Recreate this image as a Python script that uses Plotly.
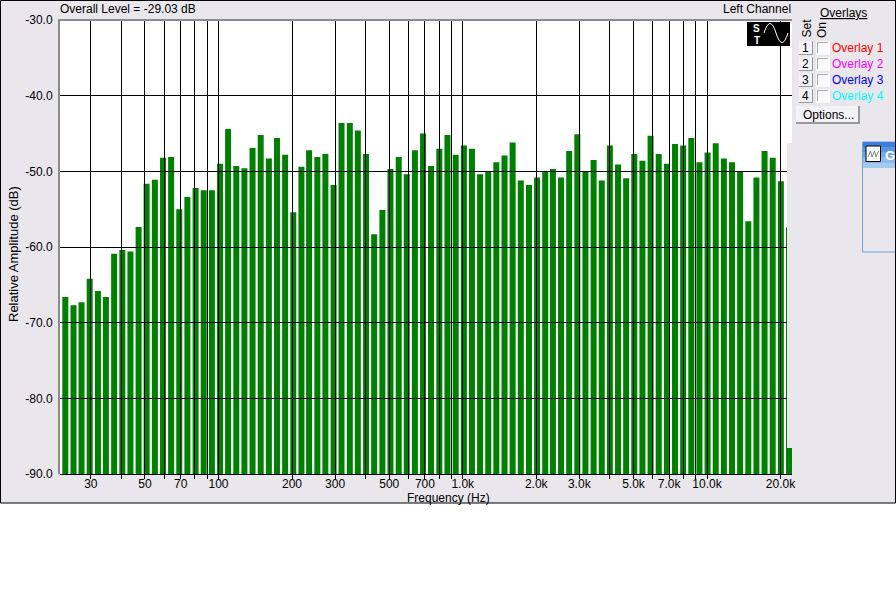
import numpy as np
import plotly.graph_objects as go

# ---- data ----
freqs_hz = [23.6,25.5,27.5,29.7,32.1,34.6,37.4,40.4,43.6,47.1,50.8,54.9,59.3,64.0,69.1,74.6,80.6,87.0,94.0,101.5,
            109.5,118.3,127.7,137.9,148.9,160.8,173.6,187.5,202.4,218.6,
            235,254,274,296,319,345,372,402,434,469,506,547,590,637,688,742,802,866,936,1011,
            1091,1178,1272,1373,1483,1601,1729,1867,2016,2177,
            2340,2527,2728,2946,3180,3435,3709,4004,4324,4668,5040,5443,5878,6346,6854,7400,7991,8628,9316,10059,
            10862,11729,12664,13673,14765,15942,17213,18587,20070,21671]
levels_db = [-66.6,-67.7,-67.3,-64.2,-65.8,-66.6,-60.9,-60.4,-60.6,-57.35,
             -51.65,-51.1,-48.2,-48.1,-55.0,-53.4,-52.2,-52.5,-52.5,-49.0,
             -44.4,-49.3,-49.6,-46.9,-45.2,-48.3,-45.6,-47.8,-55.4,-49.4,
             -47.2,-48.1,-47.7,-51.8,-43.6,-43.6,-44.6,-47.7,-58.3,-55.1,
             -49.7,-48.1,-50.4,-47.2,-45.0,-49.3,-47.0,-45.2,-47.8,-46.6,
             -47.0,-50.4,-50.0,-48.8,-47.9,-46.2,-51.2,-51.8,-50.8,-50.0,
             -49.7,-50.8,-47.3,-45.1,-50.0,-48.5,-51.2,-46.6,-49.1,-50.9,
             -47.7,-48.6,-45.3,-47.7,-49.0,-46.4,-46.6,-45.6,-48.8,-47.5,
             -46.3,-48.3,-48.8,-50.0,-56.6,-50.8,-47.3,-48.2,-51.3,-57.4]
x_tick_vals = [30,40,50,60,70,80,90,100,200,300,400,500,600,700,800,900,1000,
               2000,3000,4000,5000,6000,7000,8000,9000,10000,20000]
x_tick_text = ["30","","50","","70","","","100","200","300","","500","","700","","","1.0k",
               "2.0k","3.0k","","5.0k","","7.0k","","","10.0k","20.0k"]
y_tick_vals = [-30,-40,-50,-60,-70,-80,-90]
y_tick_text = ["-30.0","-40.0","-50.0","-60.0","-70.0","-80.0","-90.0"]
overlay_names = ["Overlay 1","Overlay 2","Overlay 3","Overlay 4"]
overlay_colors = ["#ff0000","#ff00ff","#0000ff","#00ffff"]

# ---- style / layout ----
BG = "#e9e7ec"
FONT = "Liberation Sans, Arial, sans-serif"
L, R, T, B = 60, 104, 20, 126
W, H = 896, 600
PW, PH = W - L - R, H - T - B
XR = [1.351, 4.348]
YR = [-90, -30]

def px(x): return (x - L) / PW
def py(y): return 1 - (y - T) / PH

shapes = []
def rect(x0, y0, x1, y1, fill, line=None, lw=1, layer="above"):
    shapes.append(dict(type="rect", xref="paper", yref="paper", x0=px(x0), x1=px(x1), y0=py(y0), y1=py(y1),
                       fillcolor=fill, line=dict(color=line or fill, width=lw if line else 0), layer=layer))

def path(points, color, lw=1):
    shapes.append(dict(type="path", xref="paper", yref="paper", path=points, line=dict(color=color, width=lw), layer="above"))

anns = []
def text(x, y, s, color="#000000", size=12, anchor="center", angle=0, vanchor="middle"):
    anns.append(dict(xref="paper", yref="paper", x=px(x), y=py(y), text=s, showarrow=False, xanchor=anchor,
                     yanchor=vanchor, textangle=angle, font=dict(color=color, size=size, family=FONT),
                     borderpad=0, borderwidth=0))

# application frame and plot background
rect(0.5, 0.5, 895.5, 503, BG, "#000000", 1, layer="below")
rect(60, 20, 792, 474, "#ffffff", layer="below")
# grey axis edges
rect(58, 19, 60, 474, "#8c8c8c")
rect(58, 19, 792, 21, "#8c8c8c")
# panel hiding the end of the plot
rect(787, 143, 862, 448, BG)

# logo
rect(747, 22, 790, 46, "#000000")
def q(xc, yc): return f"{px(xc)},{py(yc)}"
path(f"M{q(764,33)} Q{q(770,14)} {q(776,33)} Q{q(782,52)} {q(788,33)}", "#ffffff", 1)
text(756.5, 28, "<b>S</b>", "#ffffff", 10)
text(756.5, 40, "<b>T</b>", "#ffffff", 10)

# overlay controls
for i, (name, col) in enumerate(zip(overlay_names, overlay_colors)):
    yc = 48 + 16 * i
    rect(799, yc - 7, 813, yc + 7, "#9a9a9a")
    rect(799, yc - 7, 812, yc + 6, "#f3f2f4")
    rect(816, yc - 7, 830, yc + 7, "#fbfbfb")
    rect(817, yc - 6, 828, yc + 5, "#a8a8a8")
    rect(818, yc - 5, 828, yc + 5, "#fbfbfb")
    text(806, yc, str(i + 1))
    text(832, yc, name, col, anchor="left")
rect(796, 106, 860, 124, "#9a9a9a")
rect(796, 106, 858, 122, "#f3f2f4")
text(828, 114.5, "Options...")
text(843.5, 12.5, "<u>Overlays</u>")
text(806.5, 28, "Set", angle=-90)
text(822, 30, "On", angle=-90)

# neighbouring window
rect(862.5, 142, 897, 252, BG, "#6ca2ea", 1)
for y0, y1, c in [(142, 147, "#3f7fdc"), (147, 152, "#5a94e2"), (152, 157, "#74a8e8"), (157, 163, "#8cbaec"), (163, 168, "#a4caf0")]:
    rect(863, y0, 896, y1, c)
rect(866, 146, 880.5, 161.5, "#ffffff", "#000000", 1)
path(f"M{q(868,157)} L{q(870.5,151)} L{q(872,157)} L{q(874.5,151)} L{q(876,157)} L{q(878.5,151)}", "#808080", 1)
text(885, 155, "<b>G</b>", "#ffffff", 13, anchor="left")
rect(895, 0, 896, 503, "#000000")

# header and axis texts
text(60, 9, "Overall Level = -29.03 dB", anchor="left")
text(791, 9, "Left Channel", anchor="right")
text(448, 498.5, "Frequency (Hz)")
text(13, 254, "Relative Amplitude (dB)", size=13, angle=-90)

fig = go.Figure()
fig.add_trace(go.Bar(
    x=freqs_hz,
    y=np.array(levels_db) + 90,
    base=-90,
    width=[f * 0.0566 for f in freqs_hz],
    marker=dict(color="#008000", line=dict(width=0)),
    customdata=levels_db,
    hovertemplate="%{x} Hz: %{customdata} dB<extra></extra>",
    xaxis="x", yaxis="y",
))
# a markless trace makes the second subplot (grid above the bars) exist
fig.add_trace(go.Scatter(x=freqs_hz, y=levels_db, mode="lines", line=dict(color="rgba(0,0,0,0)", width=0),
                         hoverinfo="skip", xaxis="x2", yaxis="y2"))

fig.update_layout(
    width=W, height=H, autosize=False,
    margin=dict(l=L, r=R, t=T, b=B, pad=0),
    paper_bgcolor="#ffffff", plot_bgcolor="rgba(0,0,0,0)",
    showlegend=False, font=dict(family=FONT, size=12, color="#000000"),
    shapes=shapes, annotations=anns,
    # bars live on the first subplot
    xaxis=dict(type="log", range=XR, visible=False, anchor="y"),
    yaxis=dict(range=YR, visible=False, anchor="x"),
    # grid, ticks and labels live on a second subplot with the same area, which draws above the bars
    xaxis2=dict(type="log", range=XR, anchor="y2", tickmode="array", tickvals=x_tick_vals, ticktext=x_tick_text,
                showgrid=True, gridcolor="#000000", gridwidth=1, zeroline=False, showline=True, linecolor="#000000", linewidth=1,
                ticks="outside", ticklen=4, tickcolor="#000000", tickwidth=1, tickangle=0, ticklabelstandoff=-5,
                tickfont=dict(size=12, family=FONT, color="#000000")),
    yaxis2=dict(range=YR, anchor="x2", tickmode="array", tickvals=y_tick_vals, ticktext=y_tick_text,
                showgrid=True, gridcolor="#000000", gridwidth=1, zeroline=False, showline=False,
                ticks="outside", ticklen=4, tickcolor="rgba(0,0,0,0)", tickwidth=1,
                tickfont=dict(size=12, family=FONT, color="#000000")),
)

fig.write_html("out.html", config=dict(displayModeBar=False),
               post_script="document.body.style.margin='0';document.documentElement.style.overflow='hidden';")
